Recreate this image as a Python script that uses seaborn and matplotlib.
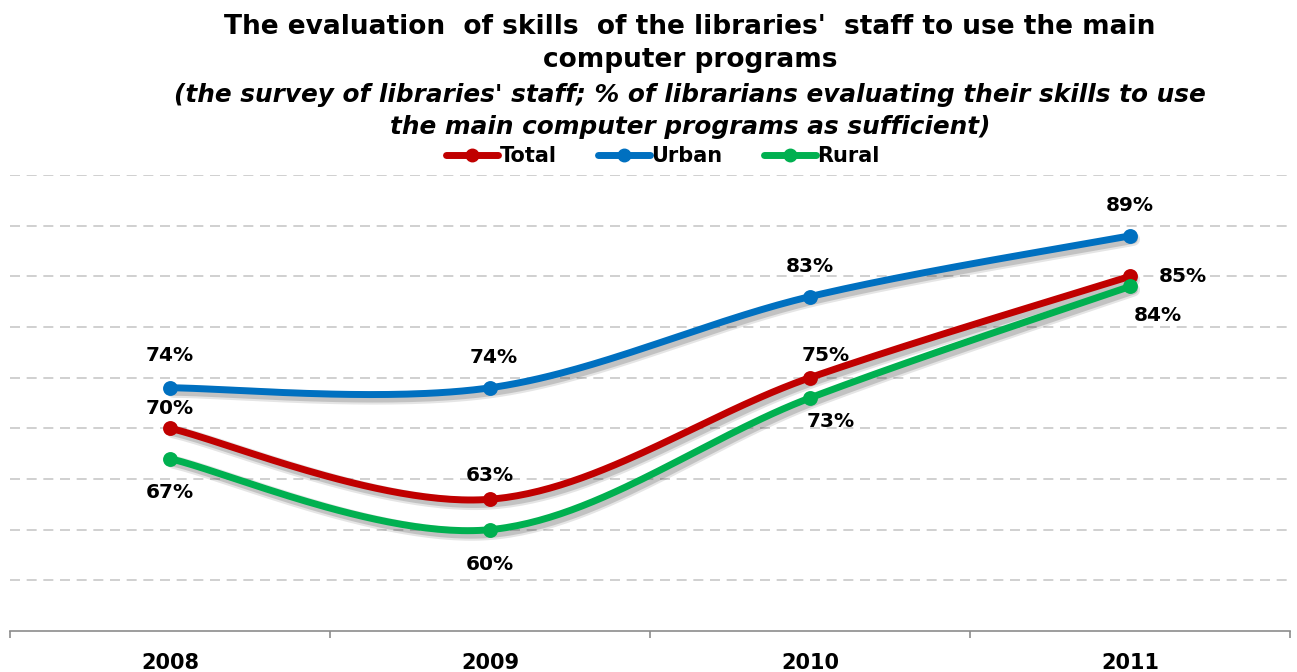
import numpy as np
import matplotlib
matplotlib.use("Agg")
import matplotlib.pyplot as plt
import matplotlib.patheffects as pe
from matplotlib.lines import Line2D
import seaborn as sns

# Survey results: share of librarians rating their computer skills as sufficient (%)
years = ["2008", "2009", "2010", "2011"]
total = [70, 63, 75, 85]
urban = [74, 74, 83, 89]
rural = [67, 60, 73, 84]

series_names = ["Total", "Urban", "Rural"]
series_values = [total, urban, rural]
series_colors = ["#C00000", "#0070C0", "#00B050"]

# label offsets in points (dx, dy) for each series / year
label_offsets = {
    "Total": [(0, 14), (0, 17), (11, 16), (38, 0)],
    "Urban": [(0, 23), (3, 22), (0, 22), (0, 22)],
    "Rural": [(0, -24), (0, -25), (15, -17), (20, -21)],
}

sns.set_theme(style="white")
plt.rcParams["font.family"] = ["DejaVu Sans"]
plt.rcParams["text.color"] = "black"
plt.rcParams["xtick.color"] = "black"


def smooth_curve(xv, yv, n=60):
    """Bezier smoothing through the points (Catmull-Rom style tangents)."""
    pts = np.column_stack([xv, yv]).astype(float)
    ext = np.vstack([pts[0], pts, pts[-1]])
    out = []
    for i in range(len(pts) - 1):
        p0, p1, p2, p3 = ext[i], ext[i + 1], ext[i + 2], ext[i + 3]
        c1 = p1 + (p2 - p0) / 6.0
        c2 = p2 - (p3 - p1) / 6.0
        t = np.linspace(0, 1, n)[:, None]
        seg = ((1 - t) ** 3) * p1 + 3 * ((1 - t) ** 2) * t * c1 + 3 * (1 - t) * t ** 2 * c2 + t ** 3 * p2
        out.append(seg if i == 0 else seg[1:])
    seg = np.vstack(out)
    return seg[:, 0], seg[:, 1]


fig = plt.figure(figsize=(12.97, 6.72), dpi=100)
ax = fig.add_axes([10 / 1297, 1 - 631 / 672, 1280 / 1297, (631 - 175) / 672])

xpos = np.arange(len(years))
ax.set_xlim(-0.5, len(years) - 0.5)
ax.set_ylim(50, 95)

# dashed horizontal gridlines
for gy in range(55, 96, 5):
    ax.axhline(gy, color="#C8C8C8", lw=1.2, ls=(0, (6, 4)), zorder=0)

shadow = [
    pe.SimpleLineShadow(offset=(2.5, -2.5), shadow_color="black", alpha=0.10, linewidth=9.5),
    pe.SimpleLineShadow(offset=(2.5, -2.5), shadow_color="black", alpha=0.15, linewidth=6.5),
    pe.Normal(),
]

for name, vals, col in zip(series_names, series_values, series_colors):
    sx, sy = smooth_curve(xpos, vals)
    sns.lineplot(x=sx, y=sy, ax=ax, color=col, lw=5.0, sort=False,
                 estimator=None, solid_capstyle="round", zorder=3,
                 path_effects=shadow)
    sns.scatterplot(x=xpos, y=vals, ax=ax, color=col, s=115, edgecolor=col,
                    linewidth=0, zorder=4)
    for i, v in enumerate(vals):
        dx, dy = label_offsets[name][i]
        ax.annotate(f"{v}%", (xpos[i], v), xytext=(dx, dy), textcoords="offset points",
                    ha="center", va="center", fontsize=14.5, fontweight="bold",
                    color="black", zorder=5)

# axes styling
for s in ["top", "right", "left"]:
    ax.spines[s].set_visible(False)
ax.spines["bottom"].set_color("#8C8C8C")
ax.spines["bottom"].set_linewidth(1.2)
ax.set_yticks([])
ax.set_xticks(np.arange(-0.5, len(years), 1.0))
ax.set_xticklabels([])
ax.set_xticks(xpos, minor=True)
ax.set_xticklabels(years, minor=True, fontsize=15, fontweight="bold")
ax.tick_params(axis="x", which="major", direction="out", length=5, width=1.2,
               color="#8C8C8C", bottom=True)
ax.tick_params(axis="x", which="minor", length=0, pad=16, labelcolor="black")
ax.set_xlabel("")
ax.set_ylabel("")
if ax.get_legend():
    ax.get_legend().remove()

# titles
title_x = 690 / 1297
fig.text(title_x, 1 - 27 / 672, "The evaluation  of skills  of the libraries'  staff to use the main",
         ha="center", va="center", fontsize=19, fontweight="bold")
fig.text(title_x, 1 - 60 / 672, "computer programs",
         ha="center", va="center", fontsize=19, fontweight="bold")
fig.text(title_x, 1 - 95 / 672, "(the survey of libraries' staff; % of librarians evaluating their skills to use",
         ha="center", va="center", fontsize=17.8, fontweight="bold", fontstyle="italic")
fig.text(title_x, 1 - 127 / 672, "the main computer programs as sufficient)",
         ha="center", va="center", fontsize=17.8, fontweight="bold", fontstyle="italic")

handles = [Line2D([0], [0], color=c, lw=5.0, marker="o", markersize=9,
                  solid_capstyle="round") for c in series_colors]
fig.legend(handles, series_names, loc="center", bbox_to_anchor=(663 / 1297, 1 - 156 / 672),
           ncol=3, frameon=False, handlelength=2.5, handletextpad=0.05,
           columnspacing=2.0, prop={"weight": "bold", "size": 15})

fig.savefig("out.png", dpi=100)
